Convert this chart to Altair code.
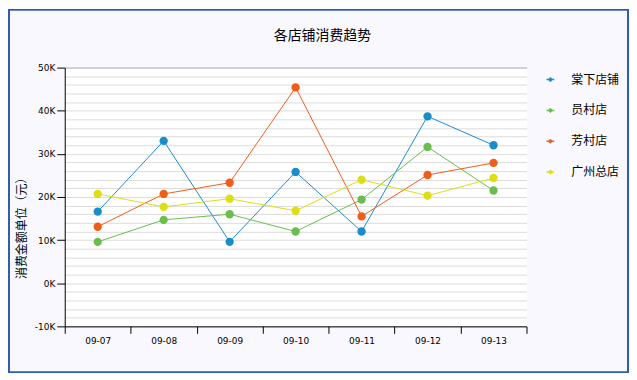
import altair as alt
import pandas as pd

dates = ["09-07", "09-08", "09-09", "09-10", "09-11", "09-12", "09-13"]
stores = ["棠下店铺", "员村店", "芳村店", "广州总店"]
tangxia = [16600, 33000, 9600, 25800, 12000, 38700, 32000]
yuancun = [9600, 14700, 16000, 12000, 19400, 31600, 21500]
fangcun = [13100, 20700, 23300, 45400, 15500, 25100, 27900]
zongdian = [20700, 17700, 19600, 16800, 24000, 20300, 24400]
colors = ["#1a8ccc", "#6bbd4d", "#f25c19", "#dede14"]
y_grid = list(range(-10000, 50001, 2000))

rows = []
for s, vals in zip(stores, [tangxia, yuancun, fangcun, zongdian]):
    for d, v in zip(dates, vals):
        rows.append({"日期": d, "店铺": s, "金额": v})
df = pd.DataFrame(rows)

major = "datum.value % 10000 === 0"

x_enc = alt.X(
    "日期:N", sort=dates, bandPosition=0.5,
    scale=alt.Scale(type="band", paddingInner=0, paddingOuter=0),
    axis=alt.Axis(title=None, tickBand="extent", labelAngle=0, labelFont="DejaVu Sans",
                  labelFontSize=9, labelColor="black", tickColor="black", tickSize=7,
                  domainColor="black", gridColor="#c8c8c8", labelPadding=3),
)
y_enc = alt.Y(
    "金额:Q", scale=alt.Scale(domain=[-10000, 50000], nice=False, zero=False),
    axis=alt.Axis(
        values=y_grid, labelOverlap=False,
        labelExpr="datum.value % 10000 === 0 ? (datum.value/1000) + 'K' : ''",
        labelFont="DejaVu Sans", labelFontSize=9, labelColor="black",
        tickColor={"condition": {"test": major, "value": "black"}, "value": "transparent"},
        tickSize=8, domainColor="black",
        gridColor={"condition": {"test": "datum.value === 50000", "value": "#cfcfd8"}, "value": "#dcdcdc"},
        gridWidth={"condition": {"test": "datum.value === 50000", "value": 2}, "value": 1},
        title="消费金额单位（元）", titleFont="Noto Sans CJK SC", titleFontSize=12,
        titleFontWeight="normal", titleColor="black", titleX=-43, titleY=158,
        titleAngle=270, titleAlign="center", titleBaseline="middle",
    ),
)
color_enc = alt.Color(
    "店铺:N", sort=stores,
    scale=alt.Scale(domain=stores, range=colors),
    legend=alt.Legend(title=None, orient="none", legendX=482, legendY=6,
                      symbolType="M-1,0H1M0,-0.4L0.4,0L0,0.4L-0.4,0Z",
                      symbolSize=60, symbolStrokeWidth=1.5,
                      labelFont="Noto Sans CJK SC", labelFontSize=12, labelColor="black",
                      labelOffset=15, rowPadding=19, padding=0),
)

base = alt.Chart(df).encode(x=x_enc, y=y_enc, color=color_enc)
lines = base.mark_line(strokeWidth=1)
points = base.mark_circle(size=70, opacity=1)

border = alt.Chart(pd.DataFrame({"a": [0]})).mark_rect(
    fillOpacity=0, stroke="#2f5db5", strokeWidth=2
).encode(x=alt.value(-56), x2=alt.value(566), y=alt.value(-58), y2=alt.value(306))

chart = alt.layer(border, lines, points).properties(
    width=464, height=260,
    padding={"left": 57, "top": 59, "right": 103, "bottom": 47},
    autosize=alt.AutoSizeParams(type="none"),
    background="#f8f8fe",
    title=alt.TitleParams("各店铺消费趋势", font="Noto Sans CJK SC", fontSize=14,
                          fontWeight="normal", color="black", anchor="middle",
                          dx=27, dy=34, offset=0),
).configure_view(fill="white", stroke="transparent")

chart.save("out.html", embed_options={"renderer": "svg", "actions": False})
